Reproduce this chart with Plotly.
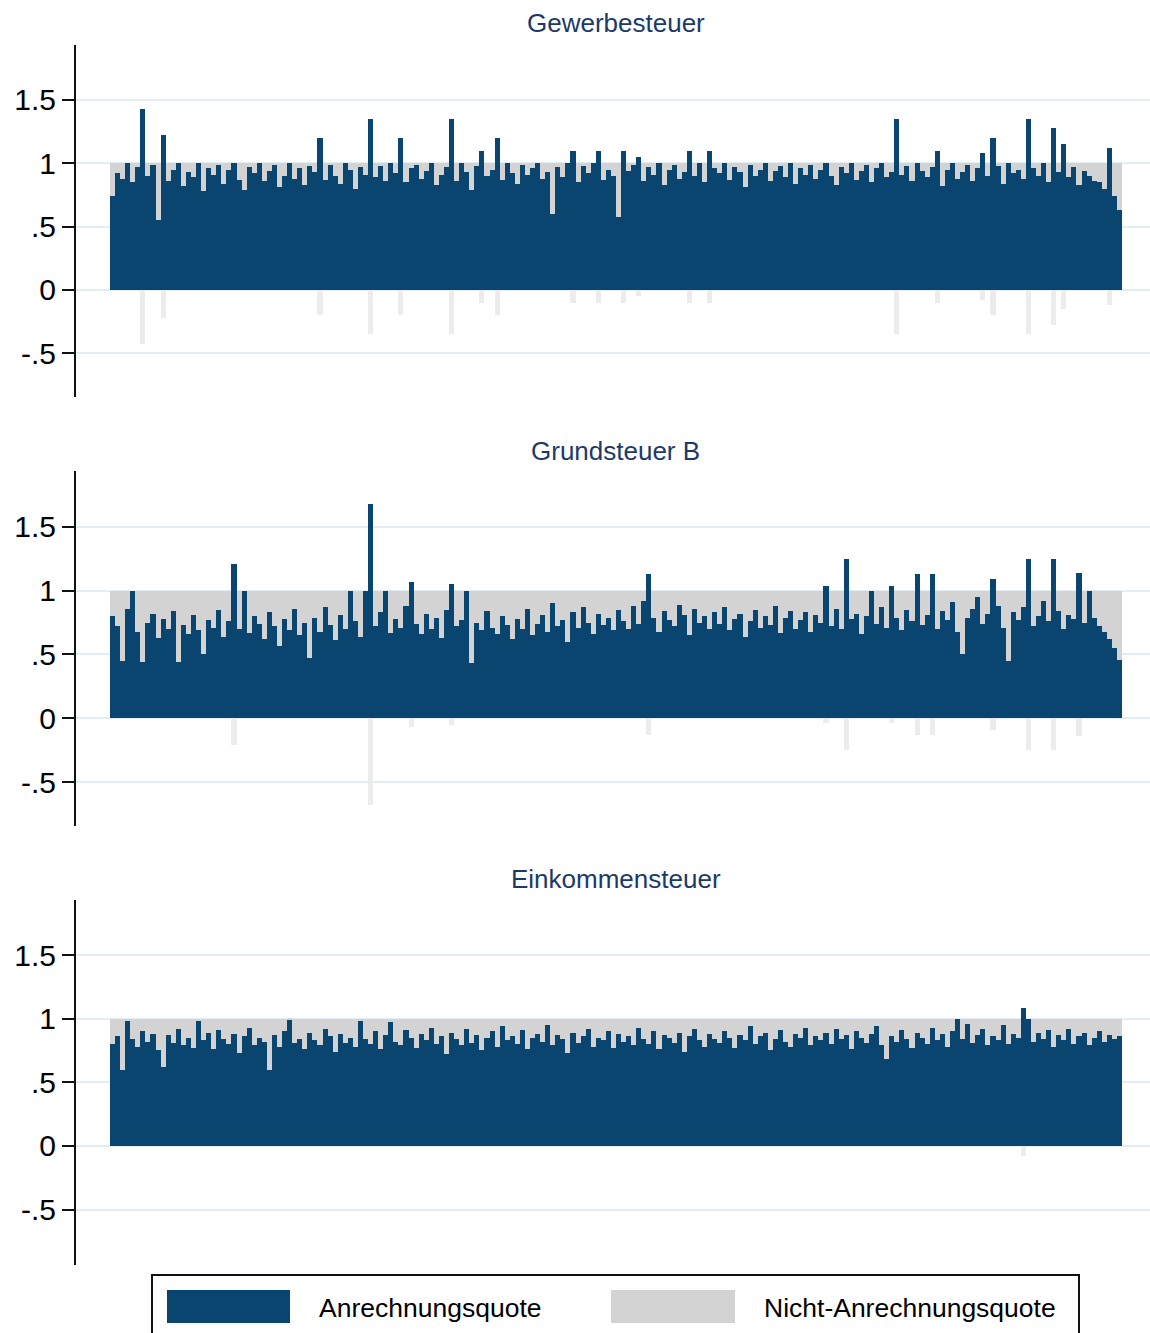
import plotly.graph_objects as go
import numpy as np

# ---------------- data ----------------
titles = ["Gewerbesteuer", "Grundsteuer B", "Einkommensteuer"]
legend_names = ["Anrechnungsquote", "Nicht-Anrechnungsquote"]
tick_vals = [-0.5, 0, 0.5, 1, 1.5]
tick_text = ["-.5", "0", ".5", "1", "1.5"]

quote_gewerbesteuer = [
    0.74, 0.92, 0.88, 1.00, 0.85, 0.97, 1.43, 0.90, 0.99, 0.55, 1.22, 0.86, 0.95, 1.00, 0.82, 0.93, 0.89, 1.00, 0.78, 0.96,
    0.91, 0.99, 0.84, 0.95, 1.00, 0.87, 0.79, 0.97, 0.92, 1.00, 0.86, 0.94, 0.99, 0.81, 0.90, 1.00, 0.88, 0.96, 0.83, 0.98,
    0.93, 1.20, 0.87, 0.99, 0.90, 0.84, 1.00, 0.95, 0.80, 0.97, 0.91, 1.35, 0.89, 0.98, 0.86, 1.00, 0.92, 1.20, 0.85, 0.96,
    0.99, 0.88, 0.94, 1.00, 0.83, 0.91, 0.97, 1.35, 0.86, 1.00, 0.93, 0.79, 0.98, 1.10, 0.90, 0.95, 1.20, 0.87, 1.00, 0.92,
    0.84, 0.99, 0.91, 0.96, 1.00, 0.88, 0.93, 0.60, 0.97, 0.89, 1.00, 1.10, 0.85, 0.98, 0.92, 1.00, 1.10, 0.87, 0.95, 0.90,
    0.58, 1.10, 0.94, 0.99, 1.05, 0.86, 0.97, 0.91, 1.00, 0.83, 0.95, 0.99, 0.88, 0.93, 1.10, 0.90, 1.00, 0.85, 1.10, 0.96,
    0.92, 1.00, 0.87, 0.97, 0.93, 0.81, 0.99, 0.90, 0.95, 1.00, 0.86, 0.94, 0.98, 0.89, 1.00, 0.84, 0.96, 0.91, 0.99, 0.88,
    0.95, 1.00, 0.90, 0.83, 0.97, 0.92, 1.00, 0.87, 0.94, 0.99, 0.85, 0.96, 1.00, 0.89, 0.93, 1.35, 0.91, 0.98, 0.86, 1.00,
    0.94, 0.89, 0.97, 1.10, 0.82, 0.95, 1.00, 0.88, 0.93, 0.99, 0.86, 0.96, 1.08, 0.90, 1.20, 0.98, 0.84, 1.00, 0.92, 0.95,
    0.88, 1.35, 0.96, 0.90, 1.00, 0.85, 1.28, 0.93, 1.15, 0.89, 0.97, 0.83, 0.94, 0.90, 0.86, 0.85, 0.80, 1.12, 0.74, 0.63,
]

quote_grundsteuer_b = [
    0.80, 0.72, 0.45, 0.86, 1.00, 0.68, 0.44, 0.75, 0.82, 0.63, 0.78, 0.70, 0.84, 0.44, 0.73, 0.66, 0.81, 0.69, 0.50, 0.77,
    0.71, 0.85, 0.64, 0.76, 1.21, 0.70, 1.00, 0.67, 0.80, 0.74, 0.62, 0.83, 0.72, 0.57, 0.78, 0.69, 0.86, 0.65, 0.75, 0.47,
    0.79, 0.68, 0.87, 0.73, 0.61, 0.81, 0.70, 1.00, 0.76, 0.64, 1.00, 1.68, 0.72, 0.83, 1.00, 0.67, 0.78, 0.71, 0.88, 1.07,
    0.74, 0.66, 0.82, 0.70, 0.79, 0.63, 0.85, 1.05, 0.72, 0.77, 1.00, 0.43, 0.75, 0.69, 0.84, 0.71, 0.66, 0.80, 0.73, 0.62,
    0.78, 0.70, 0.86, 0.65, 0.74, 0.81, 0.68, 0.90, 0.72, 0.77, 0.60, 0.83, 0.71, 0.87, 0.75, 0.66, 0.82, 0.73, 0.79, 0.69,
    0.85, 0.76, 0.70, 0.88, 0.74, 0.92, 1.13, 0.79, 0.68, 0.84, 0.77, 0.72, 0.89, 0.81, 0.65, 0.86, 0.75, 0.80, 0.70, 0.83,
    0.74, 0.87, 0.69, 0.78, 0.82, 0.64, 0.76, 0.85, 0.71, 0.80, 0.73, 0.88, 0.67, 0.79, 0.84, 0.70, 0.77, 0.83, 0.68, 0.81,
    0.75, 1.04, 0.72, 0.86, 0.70, 1.25, 0.78, 0.82, 0.66, 0.80, 1.00, 0.74, 0.87, 0.71, 1.04, 0.79, 0.69, 0.85, 0.76, 1.13,
    0.73, 0.81, 1.13, 0.70, 0.84, 0.77, 0.91, 0.68, 0.50, 0.79, 0.86, 0.95, 0.74, 0.82, 1.09, 0.88, 0.71, 0.45, 0.83, 0.77,
    0.87, 1.25, 0.72, 0.80, 0.92, 0.76, 1.25, 0.84, 0.70, 0.81, 0.78, 1.14, 0.75, 1.00, 0.79, 0.72, 0.68, 0.62, 0.55, 0.46,
]

quote_einkommensteuer = [
    0.80, 0.86, 0.60, 0.98, 0.84, 0.78, 0.90, 0.82, 0.88, 0.75, 0.62, 0.87, 0.81, 0.92, 0.79, 0.85, 0.77, 0.98, 0.83, 0.89,
    0.76, 0.91, 0.84, 0.80, 0.88, 0.73, 0.86, 0.93, 0.79, 0.85, 0.82, 0.60, 0.87, 0.78, 0.90, 0.99, 0.81, 0.84, 0.76, 0.89,
    0.83, 0.79, 0.92, 0.86, 0.74, 0.88, 0.81, 0.85, 0.78, 0.98, 0.84, 0.80, 0.90, 0.76, 0.87, 0.97, 0.82, 0.79, 0.91, 0.85,
    0.77, 0.88, 0.83, 0.93, 0.80, 0.86, 0.72, 0.89, 0.84, 0.79, 0.92, 0.81, 0.87, 0.75, 0.85, 0.90, 0.78, 0.94, 0.83, 0.86,
    0.80, 0.91, 0.76, 0.85, 0.88, 0.82, 0.95, 0.79, 0.87, 0.84, 0.73, 0.89, 0.81, 0.86, 0.92, 0.78, 0.85, 0.83, 0.90, 0.77,
    0.88, 0.82, 0.86, 0.79, 0.93, 0.84, 0.80, 0.90, 0.76, 0.87, 0.85, 0.81, 0.89, 0.74, 0.86, 0.92, 0.83, 0.78, 0.88, 0.84,
    0.81, 0.90, 0.85, 0.77, 0.87, 0.83, 0.94, 0.80, 0.86, 0.89, 0.75, 0.84, 0.91, 0.82, 0.78, 0.88, 0.85, 0.93, 0.79, 0.86,
    0.83, 0.89, 0.80, 0.92, 0.84, 0.87, 0.76, 0.90, 0.85, 0.81, 0.88, 0.94, 0.79, 0.68, 0.86, 0.82, 0.91, 0.84, 0.77, 0.89,
    0.85, 0.80, 0.93, 0.83, 0.88, 0.78, 0.90, 1.00, 0.84, 0.96, 0.81, 0.87, 0.92, 0.79, 0.86, 0.83, 0.95, 0.80, 0.88, 0.85,
    1.08, 1.00, 0.82, 0.89, 0.84, 0.91, 0.78, 0.87, 0.83, 0.92, 0.80, 0.86, 0.89, 0.79, 0.85, 0.90, 0.82, 0.87, 0.84, 0.86,
]

series = [quote_gewerbesteuer, quote_grundsteuer_b, quote_einkommensteuer]

# ---------------- style / layout ----------------
W, H = 1150, 1333
BLUE = "#0a4570"
GRAY = "#d3d3d3"
GRAY_NEG = "#ececec"
GRID = "#e2eef4"
TITLE_COLOR = "#1b3a68"
FONT = "Liberation Sans, Arial, sans-serif"


def py(p):  # pixel row -> paper y
    return 1 - p / H


def px(p):  # pixel column -> paper x
    return p / W


# panel geometry in pixels: (axis top, axis bottom, y range)
panels = [
    (45, 397, [-0.845, 1.934]),
    (471, 826, [-0.845, 1.939]),
    (900, 1265, [-0.935, 1.932]),
]
title_y = [23, 451, 879]

fig = go.Figure()
layout = dict(
    width=W, height=H,
    margin=dict(l=0, r=0, t=0, b=0),
    paper_bgcolor="white", plot_bgcolor="white",
    barmode="relative", bargap=0,
    showlegend=False,
    font=dict(family=FONT, color="black"),
)

n = len(series[0])
left_pad = (110 - 76) / (1012 / n)
right_pad = (1150 - 1122) / (1012 / n)

for k, q in enumerate(series):
    q = np.array(q)
    xs = np.arange(len(q))
    rest = 1 - q
    suffix = "" if k == 0 else str(k + 1)
    xa, ya = "x" + suffix, "y" + suffix
    fig.add_trace(go.Bar(
        x=xs, y=q, name=legend_names[0], width=1,
        marker=dict(color=BLUE, line=dict(width=0)),
        xaxis=xa, yaxis=ya,
    ))
    fig.add_trace(go.Bar(
        x=xs, y=rest, name=legend_names[1], width=1,
        marker=dict(color=[GRAY if r >= 0 else GRAY_NEG for r in rest], line=dict(width=0)),
        xaxis=xa, yaxis=ya,
    ))
    top, bot, yr = panels[k]
    layout["xaxis" + suffix] = dict(
        domain=[px(76), 1.0], range=[-0.5 - left_pad, n - 0.5 + right_pad],
        visible=False, anchor=ya,
    )
    layout["yaxis" + suffix] = dict(
        domain=[py(bot), py(top)], range=yr, anchor=xa,
        tickvals=tick_vals, ticktext=tick_text,
        showline=True, linecolor="#111111", linewidth=2,
        ticks="outside", ticklen=12, tickwidth=2, tickcolor="#111111",
        showgrid=True, gridcolor=GRID, gridwidth=2,
        zeroline=False,
        tickfont=dict(family=FONT, size=30, color="black"),
        fixedrange=True,
    )

fig.update_layout(**layout)

annotations = []
for k, t in enumerate(titles):
    annotations.append(dict(
        text=t, x=px(616), y=py(title_y[k]), xref="paper", yref="paper",
        xanchor="center", yanchor="middle", showarrow=False,
        font=dict(family=FONT, size=26, color=TITLE_COLOR),
    ))

# legend drawn as shapes + text
shapes = [
    dict(type="rect", xref="paper", yref="paper",
         x0=px(152), x1=px(1079), y0=py(1345), y1=py(1275),
         line=dict(color="#111111", width=2), fillcolor="white", layer="above"),
    dict(type="rect", xref="paper", yref="paper",
         x0=px(167), x1=px(290), y0=py(1323), y1=py(1290),
         line=dict(width=0), fillcolor=BLUE, layer="above"),
    dict(type="rect", xref="paper", yref="paper",
         x0=px(611), x1=px(735), y0=py(1323), y1=py(1290),
         line=dict(width=0), fillcolor=GRAY, layer="above"),
]
annotations.append(dict(
    text=legend_names[0], x=px(317), y=py(1308), xref="paper", yref="paper",
    xanchor="left", yanchor="middle", showarrow=False,
    font=dict(family=FONT, size=26.5, color="black"),
))
annotations.append(dict(
    text=legend_names[1], x=px(762), y=py(1308), xref="paper", yref="paper",
    xanchor="left", yanchor="middle", showarrow=False,
    font=dict(family=FONT, size=26.5, color="black"),
))

fig.update_layout(annotations=annotations, shapes=shapes)
fig.write_html(
    "out.html",
    config={"displayModeBar": False},
    post_script="document.body.style.margin='0px';document.body.style.overflow='hidden';",
)
